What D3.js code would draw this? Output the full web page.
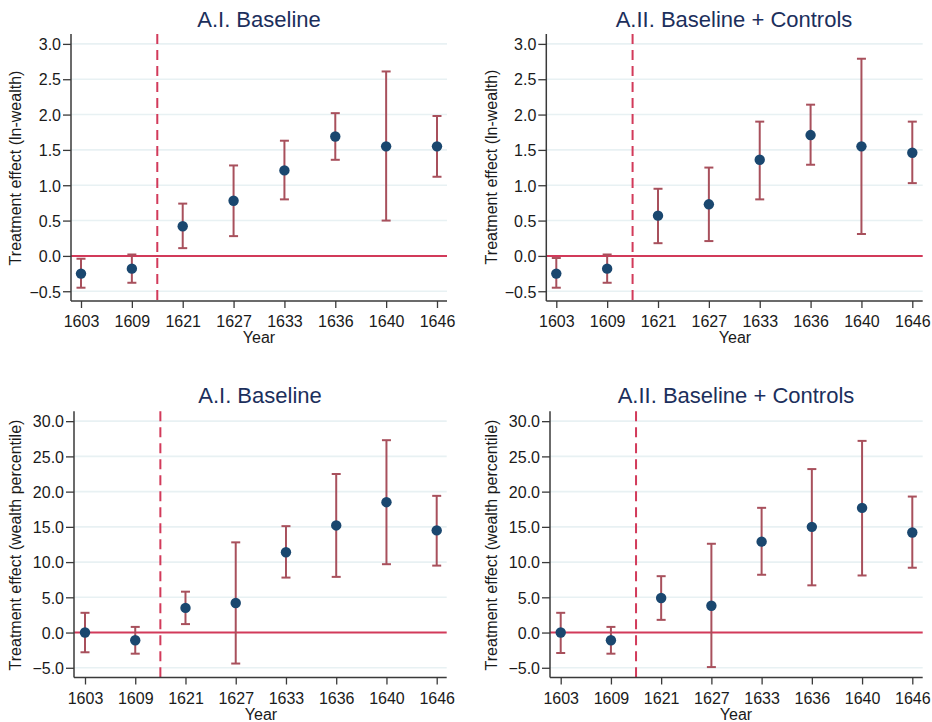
<!DOCTYPE html>
<html><head><meta charset="utf-8">
<script src="https://cdn.jsdelivr.net/npm/d3@7"></script>
<style>body{margin:0;background:#fff;} svg{display:block;font-family:"Liberation Sans",Arial,Helvetica,sans-serif;}</style>
</head><body>
<svg id="c" width="932" height="722"></svg>
<script>
const years = ["1603","1609","1621","1627","1633","1636","1640","1646"];
const titles = ["A.I. Baseline","A.II. Baseline + Controls","A.I. Baseline","A.II. Baseline + Controls"];
const yLabels = ["Treatment effect (ln-wealth)","Treatment effect (ln-wealth)","Treatment effect (wealth percentile)","Treatment effect (wealth percentile)"];
const xLabel = "Year";
const ticksLn = [-0.5,0,0.5,1,1.5,2,2.5,3];
const ticksPct = [-5,0,5,10,15,20,25,30];

// Panel A.I (ln-wealth)
const lnBaseEst = [-0.25,-0.18,0.42,0.78,1.21,1.69,1.55,1.55];
const lnBaseLo  = [-0.45,-0.38,0.11,0.28,0.80,1.36,0.50,1.12];
const lnBaseHi  = [-0.04,0.02,0.74,1.28,1.63,2.02,2.61,1.98];
// Panel A.II (ln-wealth)
const lnCtrlEst = [-0.25,-0.18,0.57,0.73,1.36,1.71,1.55,1.46];
const lnCtrlLo  = [-0.45,-0.38,0.18,0.21,0.80,1.29,0.31,1.03];
const lnCtrlHi  = [-0.03,0.02,0.95,1.25,1.90,2.14,2.79,1.90];
// Panel A.I (wealth percentile)
const pcBaseEst = [0.0,-1.1,3.5,4.2,11.4,15.2,18.5,14.5];
const pcBaseLo  = [-2.8,-3.0,1.2,-4.4,7.8,7.9,9.7,9.5];
const pcBaseHi  = [2.8,0.8,5.8,12.8,15.1,22.5,27.3,19.4];
// Panel A.II (wealth percentile)
const pcCtrlEst = [0.0,-1.1,4.9,3.8,12.9,15.0,17.7,14.2];
const pcCtrlLo  = [-2.9,-3.0,1.8,-4.9,8.2,6.7,8.1,9.2];
const pcCtrlHi  = [2.8,0.8,8.0,12.6,17.7,23.2,27.2,19.3];

const seriesList = [
  {est:lnBaseEst, lo:lnBaseLo, hi:lnBaseHi, ticks:ticksLn, dom:[-0.638,3.14], fmt:d3.format(".1f")},
  {est:lnCtrlEst, lo:lnCtrlLo, hi:lnCtrlHi, ticks:ticksLn, dom:[-0.638,3.14], fmt:d3.format(".1f")},
  {est:pcBaseEst, lo:pcBaseLo, hi:pcBaseHi, ticks:ticksPct, dom:[-6.38,31.4], fmt:d3.format(".1f")},
  {est:pcCtrlEst, lo:pcCtrlLo, hi:pcCtrlHi, ticks:ticksPct, dom:[-6.38,31.4], fmt:d3.format(".1f")}
];

// layout (pixels)
const layout = [
  {axisX:71,   x0:81,    x1:437,   right:447,   top:34,    bottom:301,   titleX:259, titleY:27,  ylabX:21,  ylabY:168, xlabX:259, xlabY:343, tickY:326.5},
  {axisX:546.3,x0:556.3, x1:912.3, right:922.7, top:34,    bottom:301,   titleX:734, titleY:27,  ylabX:497, ylabY:167, xlabX:735, xlabY:343, tickY:326.5},
  {axisX:74,   x0:85,    x1:436.7, right:446.7, top:411.3, bottom:677.5, titleX:260, titleY:403, ylabX:21,  ylabY:545, xlabX:261, xlabY:720, tickY:704},
  {axisX:550,  x0:560.7, x1:912.3, right:922.7, top:411.3, bottom:677.5, titleX:736, titleY:403, ylabX:497, ylabY:545, xlabX:736, xlabY:720, tickY:704}
];

const svg = d3.select("#c");
const navy = "#1a476f", bar = "#a8505c", red = "#d23a5a", grid = "#e8f1f3", axisC = "#3a3a3a", titleC = "#1c2f5c";

seriesList.forEach((s, i) => {
  const L = layout[i];
  const g = svg.append("g");
  const x = d3.scalePoint().domain(years).range([L.x0, L.x1]);
  const y = d3.scaleLinear().domain(s.dom).range([L.bottom, L.top]);

  // gridlines
  g.selectAll(".grid").data(s.ticks.filter(t => t !== 0)).join("line")
    .attr("x1", L.axisX).attr("x2", L.right)
    .attr("y1", d => y(d)).attr("y2", d => y(d))
    .attr("stroke", grid).attr("stroke-width", 1.6);

  // zero line
  g.append("line").attr("x1", L.axisX).attr("x2", L.right)
    .attr("y1", y(0)).attr("y2", y(0))
    .attr("stroke", red).attr("stroke-width", 2);

  // dashed vertical between 1609 and 1621
  const xv = (x("1609") + x("1621")) / 2;
  g.append("line").attr("x1", xv).attr("x2", xv)
    .attr("y1", L.top).attr("y2", L.bottom)
    .attr("stroke", red).attr("stroke-width", 2).attr("stroke-dasharray", "10,6");

  // axes
  const yAxis = d3.axisLeft(y).tickValues(s.ticks).tickFormat(s.fmt).tickSize(8).tickPadding(2);
  const ya = g.append("g").attr("transform", `translate(${L.axisX},0)`).call(yAxis);
  ya.select(".domain").attr("d", `M0,${L.top}V${L.bottom}`);
  const xAxis = d3.axisBottom(x).tickSize(7).tickPadding(3);
  const xa = g.append("g").attr("transform", `translate(0,${L.bottom})`).call(xAxis);
  xa.select(".domain").attr("d", `M${L.axisX},0H${L.right}`);
  [ya, xa].forEach(a => {
    a.select(".domain").attr("stroke", axisC).attr("stroke-width", 1.5);
    a.selectAll(".tick line").attr("stroke", axisC).attr("stroke-width", 1.3);
    a.selectAll(".tick text").attr("fill", "#1a1a1a").style("font-size", "16px")
      .style("font-family", '"Liberation Sans",Arial,sans-serif');
  });
  xa.selectAll(".tick text").attr("dy", null).attr("y", L.tickY - L.bottom);
  ya.selectAll(".tick text").attr("dy", "0.36em");

  // error bars
  const idx = d3.range(years.length);
  const cap = 4.5;
  const eb = g.append("g").attr("stroke", bar).attr("stroke-width", 2).attr("fill", "none");
  eb.selectAll(".v").data(idx).join("line")
    .attr("x1", d => x(years[d])).attr("x2", d => x(years[d]))
    .attr("y1", d => y(s.lo[d])).attr("y2", d => y(s.hi[d]));
  eb.selectAll(".ct").data(idx).join("line")
    .attr("x1", d => x(years[d]) - cap).attr("x2", d => x(years[d]) + cap)
    .attr("y1", d => y(s.hi[d])).attr("y2", d => y(s.hi[d]));
  eb.selectAll(".cb").data(idx).join("line")
    .attr("x1", d => x(years[d]) - cap).attr("x2", d => x(years[d]) + cap)
    .attr("y1", d => y(s.lo[d])).attr("y2", d => y(s.lo[d]));

  // points
  g.selectAll(".pt").data(idx).join("circle")
    .attr("cx", d => x(years[d])).attr("cy", d => y(s.est[d]))
    .attr("r", 5.2).attr("fill", navy);

  // labels
  g.append("text").attr("x", L.titleX).attr("y", L.titleY).attr("text-anchor", "middle")
    .style("font-size", "22px").attr("fill", titleC).text(titles[i]);
  g.append("text").attr("transform", `translate(${L.ylabX},${L.ylabY}) rotate(-90)`)
    .attr("text-anchor", "middle").style("font-size", "16px").attr("fill", "#1a1a1a").text(yLabels[i]);
  g.append("text").attr("x", L.xlabX).attr("y", L.xlabY).attr("text-anchor", "middle")
    .style("font-size", "16px").attr("fill", "#1a1a1a").text(xLabel);
});
</script>
</body></html>
